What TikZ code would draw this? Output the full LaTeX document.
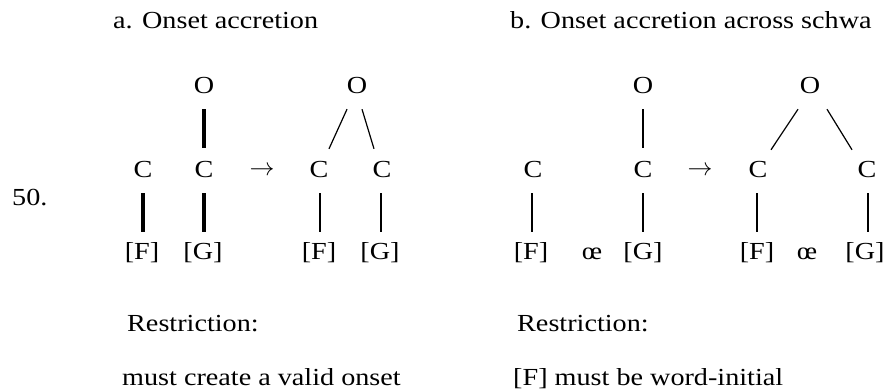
\documentclass[tikz,border=0pt]{standalone}
\usepackage{fontspec}
\setmainfont{Liberation Serif}[FakeStretch=1.15]
\usetikzlibrary{calc}
\tikzset{
  txt/.style={inner sep=0pt, anchor=base west, font=\fontsize{24.5}{24.5}\selectfont},
  tn/.style={inner sep=0pt, anchor=base, text height=17pt, text depth=0pt, font=\fontsize{24.5}{24.5}\selectfont},
  heavy/.style={line width=3.2pt},
  mid/.style={line width=2.3pt},
  slim/.style={line width=1.2pt},
}
\begin{document}
\begin{tikzpicture}[x=1pt,y=-1pt]
\useasboundingbox (0,0) rectangle (884,390);
% titles
\node[txt] (ta) at (113,29) {a. Onset accretion};
\node[txt] (tb) at (510,29) {b. Onset accretion across schwa};
\node[txt] (num) at (12,206) {50.};
% part a
\node[tn] (O1) at (204,94) {O};
\node[tn] (O2) at (357,94) {O};
\node[tn] (C1) at (143,178) {C};
\node[tn] (C2) at (204,178) {C};
\node[tn] (C3) at (319,178) {C};
\node[tn] (C4) at (382,178) {C};
\node[tn] (ar1) at (262,176) {$\rightarrow$};
\node[tn] (F1) at (142,260) {[F]};
\node[tn] (G1) at (203,260) {[G]};
\node[tn] (F2) at (319,260) {[F]};
\node[tn] (G2) at (380,260) {[G]};
\draw[heavy] ($(O1.south)+(0,15)$) -- ($(C2.north)+(0,-13)$);
\draw[heavy] ($(C1.south)+(0,15)$) -- ($(C1.south |- F1.north)+(0,-11)$);
\draw[heavy] ($(C2.south)+(0,15)$) -- ($(C2.south |- G1.north)+(0,-11)$);
\draw[mid] ($(C3.south)+(1,15)$) -- ($(C3.south |- F2.north)+(1,-11)$);
\draw[mid] ($(C4.south)+(-1,15)$) -- ($(C4.south |- G2.north)+(-1,-11)$);
\draw[slim] ($(O2.south)+(-10,15)$) -- ($(C3.north)+(10,-12)$);
\draw[slim] ($(O2.south)+(5,15)$) -- ($(C4.north)+(-8,-12)$);
% part b
\node[tn] (O3) at (643,94) {O};
\node[tn] (O4) at (810,94) {O};
\node[tn] (C5) at (533,178) {C};
\node[tn] (C6) at (643,178) {C};
\node[tn] (C7) at (758,178) {C};
\node[tn] (C8) at (867,178) {C};
\node[tn] (ar2) at (700,176) {$\rightarrow$};
\node[tn] (F3) at (531,260) {[F]};
\node[tn] (E1) at (592,260) {œ};
\node[tn] (G3) at (643,260) {[G]};
\node[tn] (F4) at (757,260) {[F]};
\node[tn] (E2) at (807,260) {œ};
\node[tn] (G4) at (865,260) {[G]};
\draw[mid] ($(O3.south)+(0,15)$) -- ($(C6.north)+(0,-13)$);
\draw[mid] ($(C5.south)+(-1,15)$) -- ($(C5.south |- F3.north)+(-1,-11)$);
\draw[mid] ($(C6.south)+(0,15)$) -- ($(C6.south |- G3.north)+(0,-11)$);
\draw[mid] ($(C7.south)+(-1,15)$) -- ($(C7.south |- F4.north)+(-1,-11)$);
\draw[mid] ($(C8.south)+(1,15)$) -- ($(C8.south |- G4.north)+(1,-11)$);
\draw[slim] ($(O4.south)+(-12,15)$) -- ($(C7.north)+(13,-11)$);
\draw[slim] ($(O4.south)+(17,15)$) -- ($(C8.north)+(-15,-11)$);
% restrictions
\node[txt] (ra) at (127,331) {Restriction:};
\node[txt] (ma) at (122,385) {must create a valid onset};
\node[txt] (rb) at (517,331) {Restriction:};
\node[txt] (mb) at (513,385) {[F] must be word-initial};
\end{tikzpicture}
\end{document}
